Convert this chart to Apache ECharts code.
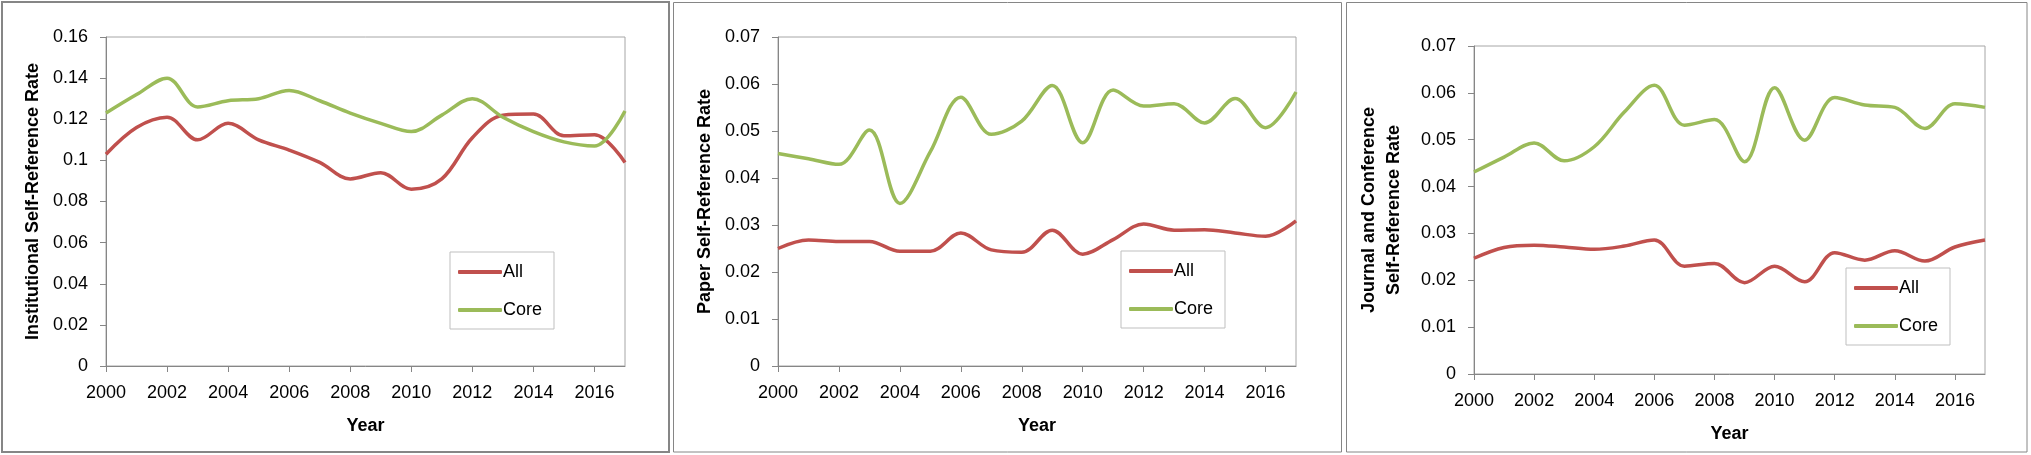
<!DOCTYPE html>
<html>
<head>
<meta charset="utf-8">
<script src="https://cdn.jsdelivr.net/npm/echarts@6/dist/echarts.min.js"></script>
<style>
html,body{margin:0;padding:0;background:#fff;}
#c{width:2031px;height:455px;}
</style>
</head>
<body>
<div id="c"></div>
<script>
const years = ['2000','2001','2002','2003','2004','2005','2006','2007','2008','2009','2010','2011','2012','2013','2014','2015','2016','2017'];

const instAll  = [0.103,0.116,0.121,0.110,0.118,0.110,0.105,0.099,0.091,0.094,0.086,0.091,0.111,0.122,0.1225,0.112,0.1125,0.099];
const instCore = [0.123,0.132,0.140,0.126,0.129,0.130,0.134,0.129,0.123,0.118,0.114,0.122,0.130,0.121,0.114,0.109,0.107,0.124];

const paperAll  = [0.0250,0.0268,0.0265,0.0265,0.0244,0.0244,0.0283,0.0247,0.0242,0.0289,0.0238,0.0269,0.0302,0.0289,0.0290,0.0283,0.0276,0.0309];
const paperCore = [0.0452,0.0441,0.0429,0.0502,0.0346,0.0456,0.0572,0.0493,0.0521,0.0597,0.0475,0.0587,0.0553,0.0558,0.0517,0.0569,0.0507,0.0583];

const jcAll  = [0.0247,0.0270,0.0275,0.0271,0.0266,0.0273,0.0286,0.0230,0.0236,0.0195,0.0230,0.0197,0.0259,0.0243,0.0263,0.0241,0.0271,0.0286];
const jcCore = [0.0431,0.0463,0.0493,0.0455,0.0485,0.0559,0.0616,0.0531,0.0543,0.0453,0.0611,0.0499,0.0590,0.0574,0.0569,0.0524,0.0577,0.0569];

const yMax = [0.16, 0.07, 0.07];
const yStep = [0.02, 0.01, 0.01];
const yNames = ['Institutional Self-Reference Rate', 'Paper Self-Reference Rate', 'Journal and Conference\nSelf-Reference Rate'];
const xName = 'Year';
const seriesNames = ['All', 'Core'];

const RED = '#C0504D', GREEN = '#9BBB59';
const FONT = '"Liberation Sans", Arial, sans-serif';

const grids = [
  {left:106, top:37, width:519, height:329},
  {left:778, top:37, width:518, height:329},
  {left:1474, top:46, width:511, height:328}
];
const nameGaps = [73, 73, 92];
const legendPos = [
  {left:450, top:252},
  {left:1121, top:251},
  {left:1846, top:268}
];

const chart = echarts.init(document.getElementById('c'));
const xAxes = [], yAxes = [], series = [], legends = [];
const data = [[instAll, instCore],[paperAll, paperCore],[jcAll, jcCore]];
for (let i=0;i<3;i++){
  xAxes.push({
    type:'category', gridIndex:i, data:years, boundaryGap:false,
    name:xName, nameLocation:'middle', nameGap:60,
    nameTextStyle:{fontFamily:FONT, fontSize:18, fontWeight:'bold', color:'#000', verticalAlign:'middle'},
    axisLine:{show:true, lineStyle:{color:'#868686', width:1}},
    axisTick:{show:true, interval:1, length:6, lineStyle:{color:'#868686'}},
    axisLabel:{interval:1, fontFamily:FONT, fontSize:18, color:'#000', margin:18},
    splitLine:{show:false}
  });
  yAxes.push({
    type:'value', gridIndex:i, min:0, max:yMax[i], interval:yStep[i],
    name:yNames[i], nameLocation:'middle', nameRotate:90, nameGap:nameGaps[i],
    nameTextStyle:{fontFamily:FONT, fontSize:18, fontWeight:'bold', color:'#000', verticalAlign:'middle', lineHeight:25},
    axisLine:{show:true, lineStyle:{color:'#868686', width:1}},
    axisTick:{show:true, length:6, lineStyle:{color:'#868686'}},
    axisLabel:{fontFamily:FONT, fontSize:18, color:'#000', margin:18},
    splitLine:{show:false}
  });
  [RED, GREEN].forEach((col, k) => {
    series.push({
      type:'line', name:seriesNames[k], xAxisIndex:i, yAxisIndex:i,
      data:data[i][k], smooth:0.35, showSymbol:false, symbol:'none',
      lineStyle:{color:col, width:3.5}, itemStyle:{color:col}
    });
  });
  legends.push({
    data:seriesNames, orient:'vertical', left:legendPos[i].left, top:legendPos[i].top,
    icon:'roundRect', itemWidth:44, itemHeight:4, itemGap:20,
    padding:[11, 12, 10, 8], borderColor:'#bfbfbf', borderWidth:1,
    selectedMode:false,
    textStyle:{fontFamily:FONT, fontSize:18, color:'#000', padding:[0,0,0,-4], lineHeight:18}
  });
}

chart.setOption({
  animation:false,
  backgroundColor:'#fff',
  grid: grids.map(g => Object.assign({show:true, borderColor:'#a6a6a6', borderWidth:1, backgroundColor:'transparent'}, g)),
  xAxis:xAxes, yAxis:yAxes, series:series, legend:legends,
  graphic:[
    {type:'rect', shape:{x:2, y:2, width:667, height:450}, style:{fill:'none', stroke:'#868686', lineWidth:2}, silent:true},
    {type:'rect', shape:{x:673.5, y:2.5, width:668, height:449.5}, style:{fill:'none', stroke:'#868686', lineWidth:1}, silent:true},
    {type:'rect', shape:{x:1346.5, y:2.5, width:680.5, height:449.5}, style:{fill:'none', stroke:'#868686', lineWidth:1}, silent:true}
  ]
});
</script>
</body>
</html>
